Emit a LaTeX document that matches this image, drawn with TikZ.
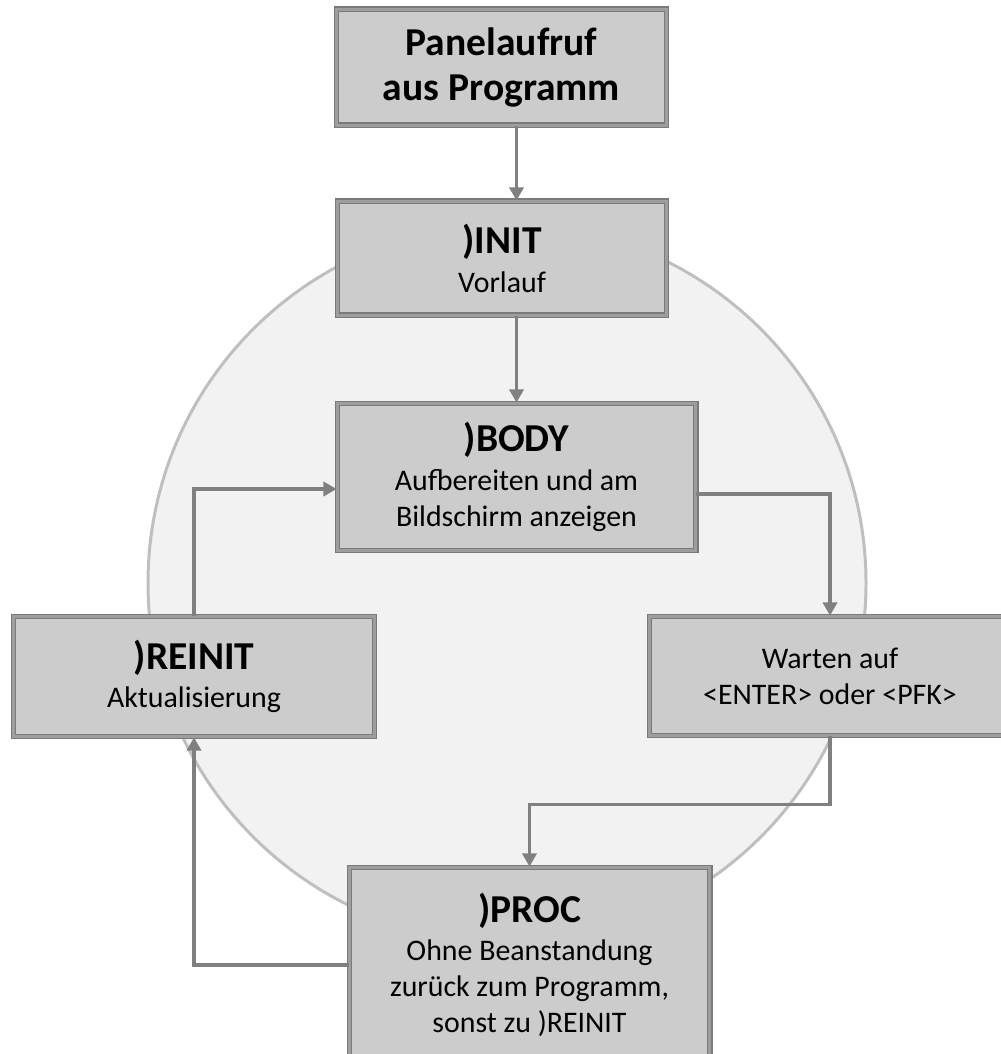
\documentclass[tikz,border=0pt]{standalone}
\usepackage{fontspec}
\setmainfont{Carlito}
\usetikzlibrary{arrows.meta}

\newcommand\boxtitle[1]{{\fontsize{22.5}{25}\selectfont\bfseries #1}}

\tikzset{
  panel/.style = {rectangle, fill=black!20, draw=black!52, line width=1pt,
                  double=black!38, double distance=1.4pt,
                  inner sep=0pt, align=center,
                  font=\fontsize{17}{20.5}\selectfont},
  flow/.style  = {draw=black!50, line width=2pt,
                  -{Triangle[length=7.5pt,width=8pt]}},
}

\begin{document}
\begin{tikzpicture}
      \useasboundingbox (0,0) rectangle (20,21.08);

      % Background circle
      \filldraw[fill=black!5, draw=black!25, line width=1.7pt]
        (10.14,9.42) circle (7.18);

      % Vertices
      \node[panel, minimum width=6.6cm, minimum height=2.32cm,
            font=\fontsize{22.5}{26}\selectfont\bfseries]
        (panel) at (10.03,19.73) {Panelaufruf\\aus Programm};
      \node[panel, minimum width=6.58cm, minimum height=2.28cm]
        (init) at (10.04,15.91) {\boxtitle{)INIT}\\[1.5pt]Vorlauf};
      \node[panel, minimum width=7.16cm, minimum height=2.94cm]
        (body) at (10.33,11.54) {\boxtitle{)BODY}\\[1.5pt]Aufbereiten und am\\Bildschirm anzeigen};
      \node[panel, minimum width=7.22cm, minimum height=2.40cm]
        (reinit) at (3.88,7.55) {\boxtitle{)REINIT}\\[1.5pt]Aktualisierung};
      \node[panel, minimum width=7.22cm, minimum height=2.38cm]
        (warten) at (16.60,7.56) {Warten auf\\<ENTER> oder <PFK>};
      \node[panel, minimum width=7.20cm, minimum height=3.90cm]
        (proc) at (10.59,1.78) {\boxtitle{)PROC}\\[1.5pt]Ohne Beanstandung\\zurück zum Programm,\\sonst zu )REINIT};

      % Edges
      \draw[flow] (panel.south -| body.center) -- (init.north -| body.center);
      \draw[flow] (init.south -| body.center) -- (body.north);
      \draw[flow] ([yshift=-0.34cm]body.east) -| (warten.north);
      \draw[flow] (warten.south) -- ++(0,-1.36) -| (proc.north);
      \draw[flow] (proc.west) -| (reinit.south);
      \draw[flow] (reinit.north) |- ([yshift=-0.24cm]body.west);
\end{tikzpicture}
\end{document}
